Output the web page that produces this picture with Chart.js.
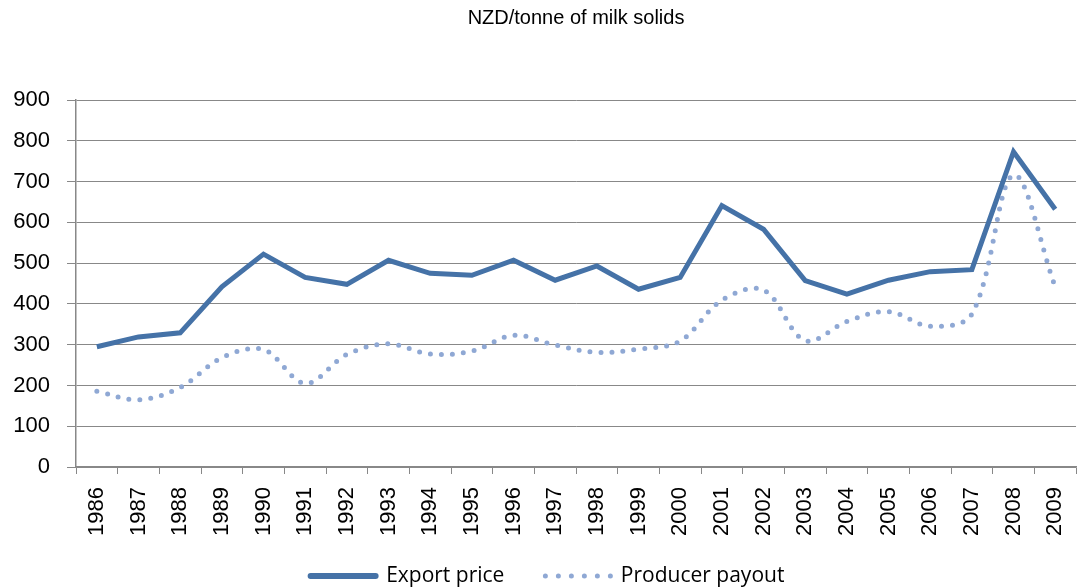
<!DOCTYPE html>
<html>
<head>
<meta charset="utf-8">
<script src="https://cdn.jsdelivr.net/npm/chart.js@4"></script>
<style>
  body { margin: 0; background: #fff; overflow: hidden; }
  #wrap { position: relative; width: 1095px; height: 588px; }
</style>
</head>
<body>
<div id="wrap"><canvas id="milkChart"></canvas></div>
<script>
// valori (NZD per tonnellata di solidi del latte)
const years = ['1986', '1987', '1988', '1989', '1990', '1991', '1992', '1993', '1994', '1995', '1996', '1997',
  '1998', '1999', '2000', '2001', '2002', '2003', '2004', '2005', '2006', '2007', '2008', '2009']
const exportPrice = [295, 319, 329, 442, 522, 465, 448, 507, 475, 470, 507, 458,
  493, 436, 465, 641, 583, 457, 424, 458, 479, 484, 773, 632]
const producerPayout = [186, 165, 195, 268, 288, 205, 276, 302, 277, 284, 323, 299,
  281, 289, 309, 409, 434, 310, 357, 381, 345, 375, 716, 442]
const yMin = 0
const yMax = 900
const yStep = 100

const gridGrey = '#888888'
const exportBlue = '#4572A7'
const payoutBlue = '#8FA8D4'

Chart.defaults.font.family = `'Liberation Sans', Arial, sans-serif`
Chart.defaults.color = '#000'

const AREA_BOTTOM = 467
const LEGEND_PAD = 41
const LEGEND_FONT = 21
const PAD_BOTTOM = -8.5 // la legenda di Chart.js aggiunge 10px sotto

// l'asse x taglia le etichette al suo bordo: lo allunghiamo fino in fondo
const unclipXLabels = {
  id: 'unclipXLabels',
  afterLayout: (chart) => { chart.scales.x.bottom = chart.height },
}

new Chart(document.getElementById('milkChart'), {
  type: 'line',
  data: {
    labels: years,
    datasets: [
      {
        label: 'Export price',
        data: exportPrice,
        borderColor: exportBlue,
        backgroundColor: exportBlue,
        borderWidth: 5,
        pointRadius: 0,
        tension: 0,
      },
      {
        label: 'Producer payout',
        data: producerPayout,
        borderColor: payoutBlue,
        backgroundColor: payoutBlue,
        borderWidth: 5,
        borderDash: [0, 11],
        borderCapStyle: 'round',
        pointRadius: 0,
        tension: 0.35,
      },
    ],
  },
  options: {
    responsive: true,
    maintainAspectRatio: false,
    devicePixelRatio: 1,
    animation: false,
    layout: { padding: { left: 0, right: 0, top: 0, bottom: PAD_BOTTOM } },
    scales: {
      x: {
        offset: true,
        grid: { display: true, drawOnChartArea: false, drawTicks: true, tickLength: 7, color: gridGrey, offset: true },
        border: { display: true, color: gridGrey, width: 1.5 },
        ticks: { autoSkip: false, minRotation: 90, maxRotation: 90, padding: 13, font: { size: 22 } },
        afterFit: (scale) => {
          // altezza fissa: l'area del grafico finisce a y = 467
          const legendH = LEGEND_FONT + LEGEND_PAD + 10
          scale.height = 588 - PAD_BOTTOM - legendH - AREA_BOTTOM
        },
      },
      y: {
        min: yMin,
        max: yMax,
        ticks: { stepSize: yStep, padding: 17, font: { size: 22 } },
        grid: { color: gridGrey, lineWidth: 1, tickLength: 9 },
        border: { display: true, color: gridGrey, width: 1.5 },
        afterFit: (scale) => { scale.width = 76 },
      },
    },
    plugins: {
      title: {
        display: true,
        text: 'NZD/tonne of milk solids',
        fullSize: false,
        font: { size: 20, weight: 'normal' },
        color: '#000',
        padding: { top: 6.5, bottom: 69.5 },
      },
      legend: {
        position: 'bottom',
        fullSize: true,
        labels: {
          boxWidth: 65,
          boxHeight: 0,
          padding: LEGEND_PAD,
          font: { family: `'Open Sans', sans-serif`, size: LEGEND_FONT },
          color: '#000',
          generateLabels: (chart) => chart.data.datasets.map((ds, i) => ({
            text: ds.label,
            datasetIndex: i,
            hidden: false,
            fillStyle: ds.borderDash ? 'rgba(0,0,0,0)' : ds.borderColor,
            strokeStyle: ds.borderColor,
            lineWidth: ds.borderDash ? 5 : 6,
            lineDash: ds.borderDash ? [0, 13] : [],
            lineCap: 'round',
            lineJoin: 'round',
            fontColor: '#000',
          })),
        },
      },
      tooltip: { enabled: false },
    },
  },
  plugins: [unclipXLabels],
})
</script>
</body>
</html>
